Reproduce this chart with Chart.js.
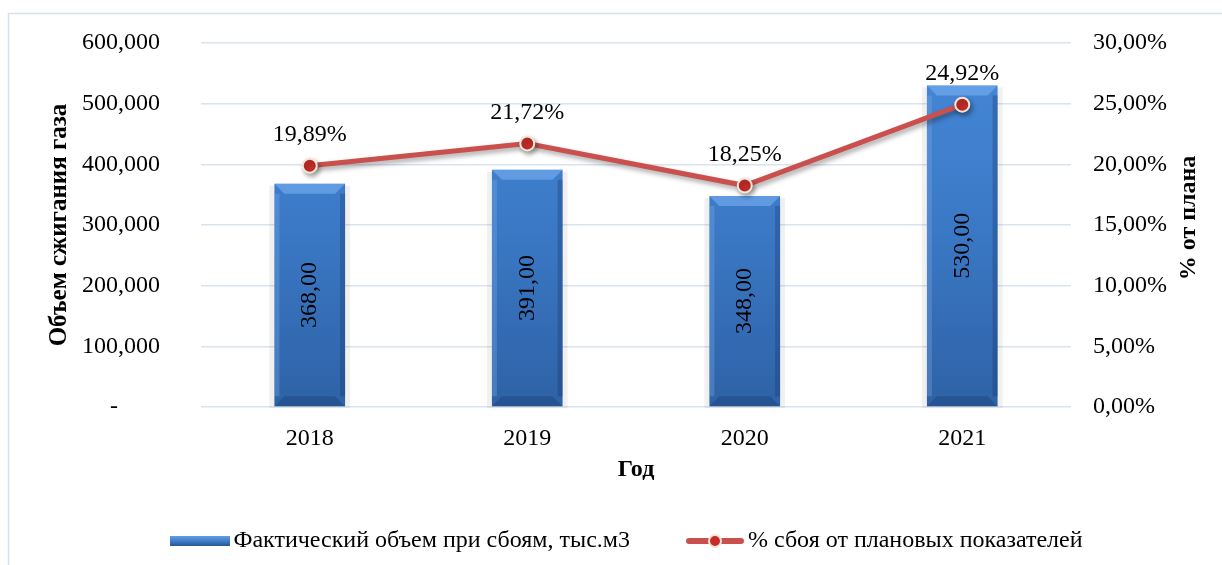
<!DOCTYPE html>
<html>
<head>
<meta charset="utf-8">
<script src="https://cdn.jsdelivr.net/npm/chart.js@4.4.1/dist/chart.umd.min.js"></script>
<style>
  html, body { margin: 0; padding: 0; background: #fff; }
  #wrap { width: 1222px; height: 565px; }
</style>
</head>
<body>
<div id="wrap"><canvas id="gasChart" width="1222" height="565"></canvas></div>
<script>
// Данные графика
const years = ['2018', '2019', '2020', '2021'];
const volumeValues = [368, 391, 348, 530];          // тыс.м3
const failurePercent = [19.89, 21.72, 18.25, 24.92]; // %
const volumeTicks = [0, 100, 200, 300, 400, 500, 600];
const percentTicks = [0, 5, 10, 15, 20, 25, 30];

const FONT = 'Liberation Serif';
const comma = (v, d) => v.toFixed(d).replace('.', ',');

// Градиент для столбцов (сверху светлее, снизу темнее)
function barFill(ctx) {
    const chart = ctx.chart;
    const area = chart.chartArea;
    if (!area) return '#3f7ec8';
    const g = chart.ctx.createLinearGradient(0, area.top, 0, area.bottom);
    g.addColorStop(0, '#4689d8');
    g.addColorStop(0.5, '#3b79c6');
    g.addColorStop(1, '#2e62a6');
    return g;
}

// Картинки для легенды
function legendBar() {
    const c = document.createElement('canvas');
    c.width = 60; c.height = 12;
    const x = c.getContext('2d');
    const g = x.createLinearGradient(0, 0, 0, 12);
    g.addColorStop(0, '#6da5e6');
    g.addColorStop(0.5, '#3f7ec9');
    g.addColorStop(1, '#234f8c');
    x.fillStyle = g;
    x.fillRect(0, 1, 60, 10);
    return c;
}
function legendLine() {
    const c = document.createElement('canvas');
    c.width = 60; c.height = 18;
    const x = c.getContext('2d');
    x.strokeStyle = '#c9504d';
    x.lineWidth = 6;
    x.lineCap = 'round';
    x.beginPath(); x.moveTo(4, 9); x.lineTo(56, 9); x.stroke();
    x.beginPath(); x.arc(30, 9, 6, 0, Math.PI * 2);
    x.fillStyle = '#c42d28'; x.fill();
    x.lineWidth = 2; x.strokeStyle = '#f3e6d8'; x.stroke();
    return c;
}
const legendIcons = [legendLine(), legendBar()];

// Рамка, подписи данных, правый заголовок
const extras = {
    id: 'extras',
    beforeDraw(chart) {
        const c = chart.ctx;
        c.save();
        c.strokeStyle = '#d6e0ee';
        c.lineWidth = 1.5;
        c.beginPath();
        c.moveTo(8.5, 565); c.lineTo(8.5, 13.5); c.lineTo(1222, 13.5);
        c.stroke();
        c.restore();
    },
    beforeDatasetDraw(chart, args) {
        const c = chart.ctx;
        if (args.meta.type === 'line') {
            c.save();
            c.shadowColor = 'rgba(0,0,0,0.35)';
            c.shadowBlur = 5;
            c.shadowOffsetX = 2;
            c.shadowOffsetY = 3;
        } else {
            // лёгкая тень по бокам столбцов
            args.meta.data.forEach(bar => {
                const p = bar.getProps(['x', 'y', 'base', 'width'], true);
                c.save();
                c.fillStyle = 'rgba(0,0,0,0.06)';
                c.fillRect(p.x - p.width / 2 - 5, p.y + 2, p.width + 10, p.base - p.y);
                c.restore();
            });
        }
    },
    afterDatasetDraw(chart, args) {
        const c = chart.ctx;
        const meta = args.meta;
        if (meta.type === 'line') { c.restore(); return; }
        // блики на столбцах
        meta.data.forEach(bar => {
            const p = bar.getProps(['x', 'y', 'base', 'width'], true);
            const l = p.x - p.width / 2, r = p.x + p.width / 2, b = 10;
            c.save();
            c.fillStyle = 'rgba(125,180,245,0.55)';
            c.beginPath();
            c.moveTo(l, p.y); c.lineTo(r, p.y); c.lineTo(r - b, p.y + b); c.lineTo(l + b, p.y + b);
            c.closePath(); c.fill();
            c.fillStyle = 'rgba(120,170,230,0.35)';
            c.fillRect(l, p.y + b, 5, p.base - p.y - 2 * b);
            c.fillStyle = 'rgba(20,50,100,0.3)';
            c.fillRect(r - 5, p.y + b, 5, p.base - p.y - 2 * b);
            c.fillStyle = 'rgba(20,50,100,0.3)';
            c.beginPath();
            c.moveTo(l, p.base); c.lineTo(r, p.base); c.lineTo(r - b, p.base - b); c.lineTo(l + b, p.base - b);
            c.closePath(); c.fill();
            c.restore();
        });
    },
    afterDatasetsDraw(chart) {
        const c = chart.ctx;
        c.save();
        c.fillStyle = '#000';
        c.font = '24px "' + FONT + '"';
        c.textAlign = 'center';
        c.textBaseline = 'middle';
        chart.getDatasetMeta(1).data.forEach((bar, i) => {
            const p = bar.getProps(['x', 'y', 'base'], true);
            c.save();
            c.translate(p.x, (p.y + p.base) / 2);
            c.rotate(-Math.PI / 2);
            c.fillText(comma(volumeValues[i], 2), 0, 0);
            c.restore();
        });
        chart.getDatasetMeta(0).data.forEach((pt, i) => {
            c.fillText(comma(failurePercent[i], 2) + '%', pt.x, pt.y - 31);
        });
        // заголовок правой оси
        c.font = 'bold 24px "' + FONT + '"';
        c.translate(1189, 218);
        c.rotate(-Math.PI / 2);
        c.fillText('% от плана', 0, 0);
        c.restore();
    }
};

const noPadV = s => { s.paddingTop = 0; s.paddingBottom = 0; };

const config = {
    data: {
        labels: years,
        datasets: [{
            type: 'line',
            label: '% сбоя от плановых показателей',
            data: failurePercent,
            yAxisID: 'y1',
            order: 0,
            borderColor: '#c9504d',
            borderWidth: 5,
            pointRadius: 7,
            pointBackgroundColor: '#c42d28',
            pointBorderColor: '#f3e6d8',
            pointBorderWidth: 2,
            tension: 0
        }, {
            type: 'bar',
            label: 'Фактический объем при сбоям, тыс.м3',
            data: volumeValues,
            yAxisID: 'y',
            order: 1,
            backgroundColor: barFill,
            categoryPercentage: 1,
            barPercentage: 0.325
        }]
    },
    options: {
        responsive: false,
        animation: false,
        layout: { padding: { top: 43, left: 40, right: 0, bottom: 2 } },
        plugins: {
            tooltip: { enabled: false },
            legend: {
                position: 'bottom',
                reverse: true,
                labels: {
                    usePointStyle: true,
                    pointStyleWidth: 42,
                    padding: 10,
                    color: '#000',
                    font: { family: FONT, size: 24 },
                    generateLabels(chart) {
                        const items = Chart.defaults.plugins.legend.labels.generateLabels(chart);
                        items.forEach(it => {
                            it.pointStyle = legendIcons[it.datasetIndex];
                            if (it.datasetIndex === 1) it.text += '         ';
                        });
                        return items;
                    }
                }
            }
        },
        scales: {
            x: {
                grid: { display: false, drawTicks: false },
                border: { display: false },
                ticks: { color: '#000', font: { family: FONT, size: 24 }, padding: 17 },
                title: {
                    display: true, text: 'Год', color: '#000',
                    font: { family: FONT, size: 24, weight: 'bold' },
                    padding: { top: 0, bottom: 35 }
                },
                afterFit(s) { s.height = 112; }
            },
            y: {
                position: 'left',
                min: 0, max: 600,
                afterBuildTicks(s) { s.ticks = volumeTicks.map(v => ({ value: v })); },
                grid: { color: '#d9e4f2', lineWidth: 1.5, drawTicks: false },
                border: { display: false },
                ticks: {
                    color: '#000', padding: 41,
                    font: { family: FONT, size: 24 },
                    callback: v => v === 0 ? '-       ' : comma(v, 3)
                },
                title: {
                    display: true, text: 'Объем сжигания газа', color: '#000',
                    font: { family: FONT, size: 25, weight: 'bold' },
                    padding: { top: 5, bottom: 0 }
                },
                afterFit(s) { s.width = 161; noPadV(s); }
            },
            y1: {
                position: 'right',
                min: 0, max: 30,
                afterBuildTicks(s) { s.ticks = percentTicks.map(v => ({ value: v })); },
                grid: { display: false, drawTicks: false },
                border: { display: false },
                ticks: {
                    color: '#000', padding: 22,
                    font: { family: FONT, size: 24 },
                    callback: v => comma(v, 2) + '%'
                },
                afterFit(s) { s.width = 151; noPadV(s); }
            }
        }
    },
    plugins: [extras]
};

new Chart(document.getElementById('gasChart').getContext('2d'), config);
</script>
</body>
</html>
